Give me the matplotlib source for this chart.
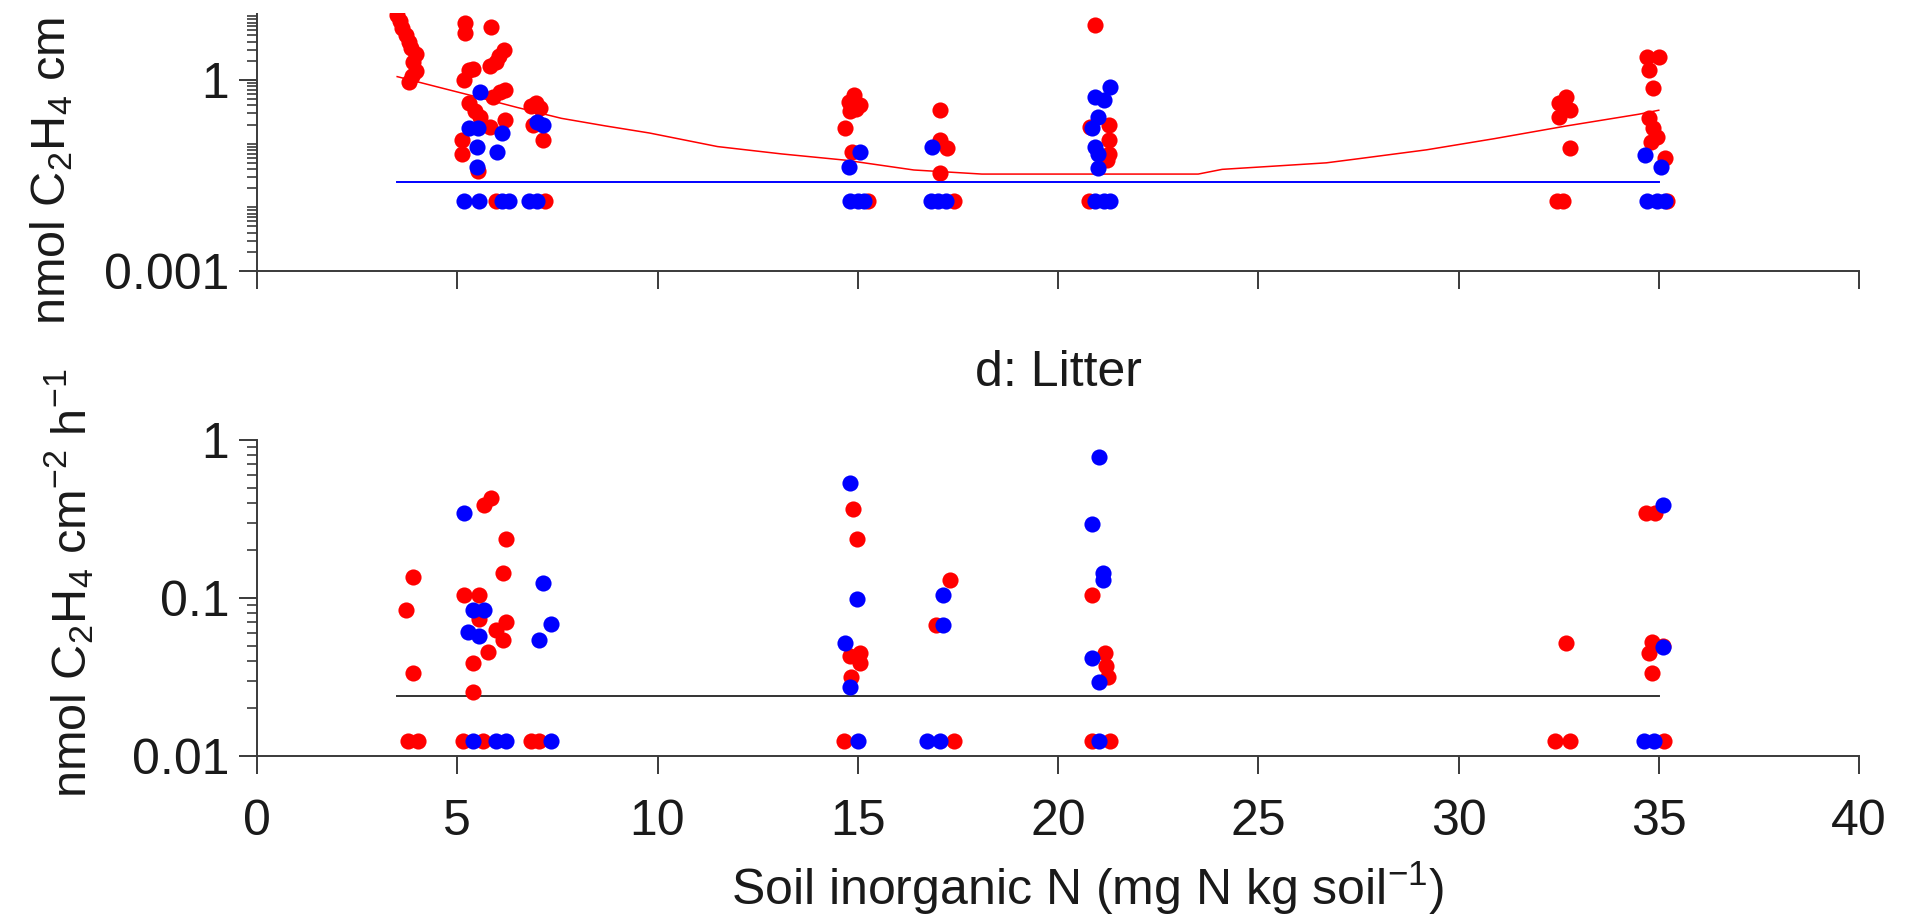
import numpy as np
import matplotlib
matplotlib.use("Agg")
import matplotlib.pyplot as plt
from matplotlib.patches import Rectangle
from matplotlib.ticker import FixedLocator, FixedFormatter, LogLocator, NullFormatter

plt.rcParams['font.family'] = ['Liberation Sans', 'DejaVu Sans']
plt.rcParams['mathtext.default'] = 'regular'

# ---- top panel (cropped) ----
top_red_x = [3.50, 3.56, 3.62, 3.72, 3.80, 3.85, 3.97, 3.90, 3.98, 3.88, 3.80,
             5.20, 5.20, 5.85, 6.17, 6.05, 5.96, 5.82, 5.40, 5.29, 5.17, 6.07, 6.20, 5.90,
             5.29, 5.45, 5.57, 6.18, 5.82, 5.12, 5.12, 5.51,
             6.96, 6.85, 7.07, 6.90, 7.13,
             14.90, 14.77, 15.06, 14.95, 14.80, 14.69, 14.86,
             17.05, 17.06, 17.23, 17.05,
             20.93, 20.80, 21.27, 21.27, 21.27, 21.22,
             32.69, 32.50, 32.79, 32.50, 32.79,
             34.70, 35.00, 34.75, 34.85, 34.75, 34.85, 34.95, 34.80, 35.15]
top_red_y = [10.5, 8.5, 6.5, 5.0, 3.9, 3.2, 2.6, 1.9, 1.4, 1.15, 0.93,
             7.8, 5.4, 6.8, 2.96, 2.4, 1.95, 1.65, 1.5, 1.43, 1.0, 0.65, 0.70, 0.55,
             0.43, 0.33, 0.265, 0.235, 0.18, 0.114, 0.07, 0.0375,
             0.43, 0.39, 0.36, 0.197, 0.114,
             0.58, 0.456, 0.40, 0.35, 0.33, 0.174, 0.075,
             0.338, 0.114, 0.085, 0.034,
             7.3, 0.185, 0.20, 0.114, 0.07, 0.055,
             0.55, 0.43, 0.338, 0.265, 0.085,
             2.33, 2.33, 1.44, 0.74, 0.25, 0.174, 0.129, 0.107, 0.059]
top_blue_x = [5.57, 5.29, 5.51, 6.12, 5.49, 6.00, 5.49, 7.00, 7.13,
              15.06, 14.77, 16.85,
              21.30, 20.93, 21.14, 21.00, 20.85, 20.93, 21.00, 21.00,
              34.65, 35.05]
top_blue_y = [0.65, 0.174, 0.174, 0.146, 0.09, 0.075, 0.043, 0.22, 0.20,
              0.075, 0.043, 0.09,
              0.77, 0.55, 0.485, 0.265, 0.174, 0.09, 0.068, 0.041,
              0.066, 0.043]
# samples below detection limit, plotted at half the limit
top_red_nd_x = [5.96, 7.18, 15.25, 17.40, 20.78, 32.45, 32.60, 35.20]
top_blue_nd_x = [5.17, 5.55, 6.12, 6.28, 6.80, 7.00, 14.80, 15.00, 15.16,
                 16.83, 17.00, 17.20, 20.93, 21.14, 21.30, 34.70, 34.95, 35.15]
top_nd = 0.0125
top_limit = 0.025

# smoothed trend of the red series
trend_x = [3.5, 4.5, 5.5, 6.5, 7.6, 8.7, 9.8, 11.5, 13.1, 14.7, 16.4, 18.1, 20.0, 22.0,
           23.5, 24.1, 25.4, 26.7, 27.5, 29.2, 30.9, 32.7, 34.5, 35.0]
trend_y = [1.13, 0.78, 0.54, 0.37, 0.25, 0.19, 0.147, 0.09, 0.069, 0.055, 0.0386, 0.0333,
           0.0333, 0.0333, 0.0333, 0.0395, 0.0444, 0.05, 0.058, 0.08, 0.12, 0.19, 0.29, 0.335]

# ---- bottom panel: d: Litter ----
bot_red_x = [3.89, 3.71, 3.89,
             5.68, 5.85, 6.22, 6.14, 5.18, 5.55, 5.55, 6.22, 5.97, 6.14, 5.76, 5.39, 5.39,
             14.89, 14.97, 15.06, 14.80, 15.06, 14.84,
             17.31, 16.95,
             20.84, 21.17, 21.20, 21.25,
             32.69,
             34.69, 34.90, 34.84, 34.75, 35.10, 34.84]
bot_red_y = [0.136, 0.084, 0.0333,
             0.388, 0.428, 0.235, 0.143, 0.104, 0.104, 0.074, 0.071, 0.063, 0.054, 0.0457, 0.0386, 0.0255,
             0.364, 0.235, 0.0447, 0.043, 0.0386, 0.0318,
             0.13, 0.0675,
             0.104, 0.0447, 0.037, 0.0318,
             0.0516,
             0.344, 0.344, 0.053, 0.0447, 0.05, 0.0333]
bot_blue_x = [5.18, 5.39, 5.68, 5.26, 5.55, 7.15, 7.34, 7.05,
              14.80, 14.97, 14.69, 14.80,
              17.12, 17.12,
              21.02, 20.86, 21.13, 21.13, 20.84, 21.02,
              35.10, 35.10]
bot_blue_y = [0.344, 0.084, 0.084, 0.061, 0.0575, 0.124, 0.068, 0.054,
              0.537, 0.0986, 0.0516, 0.0275,
              0.104, 0.0675,
              0.784, 0.293, 0.143, 0.13, 0.0415, 0.0295,
              0.388, 0.049]
bot_red_nd_x = [3.76, 4.01, 5.14, 5.64, 6.85, 7.05, 14.66, 17.40, 20.86, 21.30, 32.40, 32.79, 35.12]
bot_blue_nd_x = [5.39, 5.97, 6.22, 7.34, 15.00, 16.73, 17.06, 21.02, 34.64, 34.88]
bot_nd = 0.0125
bot_limit = 0.024

limit_x = [3.5, 35.0]
x_ticks = [0, 5, 10, 15, 20, 25, 30, 35, 40]

RED = '#ff0000'
BLUE = '#0000ff'
AXIS = '#3a3a3a'
TEXT = '#1a1a1a'
MS = 135
FS = 36

W, H = 1912, 921
fig = plt.figure(figsize=(W / 100, H / 100), dpi=100)


def style_axis(ax):
    for side in ['top', 'right']:
        ax.spines[side].set_visible(False)
    for side in ['left', 'bottom']:
        ax.spines[side].set_linewidth(1.4)
        ax.spines[side].set_color(AXIS)
    ax.set_xlim(0, 40)
    ax.xaxis.set_major_locator(FixedLocator(x_ticks))
    ax.tick_params(axis='both', which='major', direction='out', length=13, width=1.4,
                   color=AXIS, labelsize=FS, labelcolor=TEXT)
    ax.tick_params(axis='y', which='major', pad=7)
    ax.tick_params(axis='x', which='major', pad=18)
    ax.tick_params(axis='y', which='minor', direction='out', length=7.5, width=1.2, color=AXIS)
    ax.yaxis.set_minor_locator(LogLocator(base=10, subs=np.arange(1, 10), numticks=60))
    ax.yaxis.set_minor_formatter(NullFormatter())


def px(x0, y_top, x1, y_bot):
    """Axes rectangle from pixel edges (y measured from top)."""
    return [x0 / W, 1 - y_bot / H, (x1 - x0) / W, (y_bot - y_top) / H]


# top panel, cut off by the page edge
ax_top = fig.add_axes(px(257, 13, 1859, 271))
ax_top.set_yscale('log')
style_axis(ax_top)
ax_top.set_ylim(0.001, 10 ** (-3 + 3 * (271 - 13) / (271 - 80)))
ax_top.yaxis.set_major_locator(FixedLocator([0.001, 1]))
ax_top.yaxis.set_major_formatter(FixedFormatter(['0.001', '1']))
ax_top.tick_params(axis='x', labelbottom=False)

ax_top.scatter(top_red_x, top_red_y, s=MS, color=RED, linewidths=0, zorder=3)
ax_top.scatter(top_red_nd_x, [top_nd] * len(top_red_nd_x), s=MS, color=RED, linewidths=0, zorder=3)
ax_top.plot(trend_x, trend_y, color=RED, lw=1.1, zorder=4)
ax_top.plot(limit_x, [top_limit] * 2, color=BLUE, lw=1.4, zorder=4)
ax_top.scatter(top_blue_x, top_blue_y, s=MS, color=BLUE, linewidths=0, zorder=5)
ax_top.scatter(top_blue_nd_x, [top_nd] * len(top_blue_nd_x), s=MS, color=BLUE, linewidths=0, zorder=5)

# bottom panel
ax_bot = fig.add_axes(px(257, 440, 1859, 756))
ax_bot.set_yscale('log')
style_axis(ax_bot)
ax_bot.set_ylim(0.01, 1)
ax_bot.yaxis.set_major_locator(FixedLocator([0.01, 0.1, 1]))
ax_bot.yaxis.set_major_formatter(FixedFormatter(['0.01', '0.1', '1']))
ax_bot.xaxis.set_major_formatter(FixedFormatter([str(t) for t in x_ticks]))

ax_bot.plot(limit_x, [bot_limit] * 2, color='#333333', lw=1.4, zorder=2)
ax_bot.scatter(bot_red_x, bot_red_y, s=MS, color=RED, linewidths=0, zorder=3)
ax_bot.scatter(bot_red_nd_x, [bot_nd] * len(bot_red_nd_x), s=MS, color=RED, linewidths=0, zorder=3)
ax_bot.scatter(bot_blue_x, bot_blue_y, s=MS, color=BLUE, linewidths=0, zorder=5)
ax_bot.scatter(bot_blue_nd_x, [bot_nd] * len(bot_blue_nd_x), s=MS, color=BLUE, linewidths=0, zorder=5)

ax_bot.text(0.5, 1 + (440 - 373) / 316, 'd: Litter', transform=ax_bot.transAxes,
            ha='center', va='center', fontsize=FS, color=TEXT)

# axis titles; the upper one is only visible up to the page edge
fig.text(75 / W, 1 - 325 / H, 'nmol C$_2$H$_4$ cm', rotation=90, ha='right', va='bottom',
         fontsize=35, color=TEXT)
fig.text(96 / W, 1 - 798 / H, 'nmol C$_2$H$_4$ cm$^{-2}$ h$^{-1}$', rotation=90,
         ha='right', va='bottom', fontsize=35, color=TEXT)
fig.text(1088 / W, 16 / H, 'Soil inorganic N (mg N kg soil$^{-1}$)', ha='center',
         va='baseline', fontsize=FS, color=TEXT)

# white band where the original page was cropped
fig.add_artist(Rectangle((0, 1 - 13 / H), 1, 13 / H, transform=fig.transFigure,
                         facecolor='white', edgecolor='none', zorder=100))

fig.savefig('out.png', dpi=100)
